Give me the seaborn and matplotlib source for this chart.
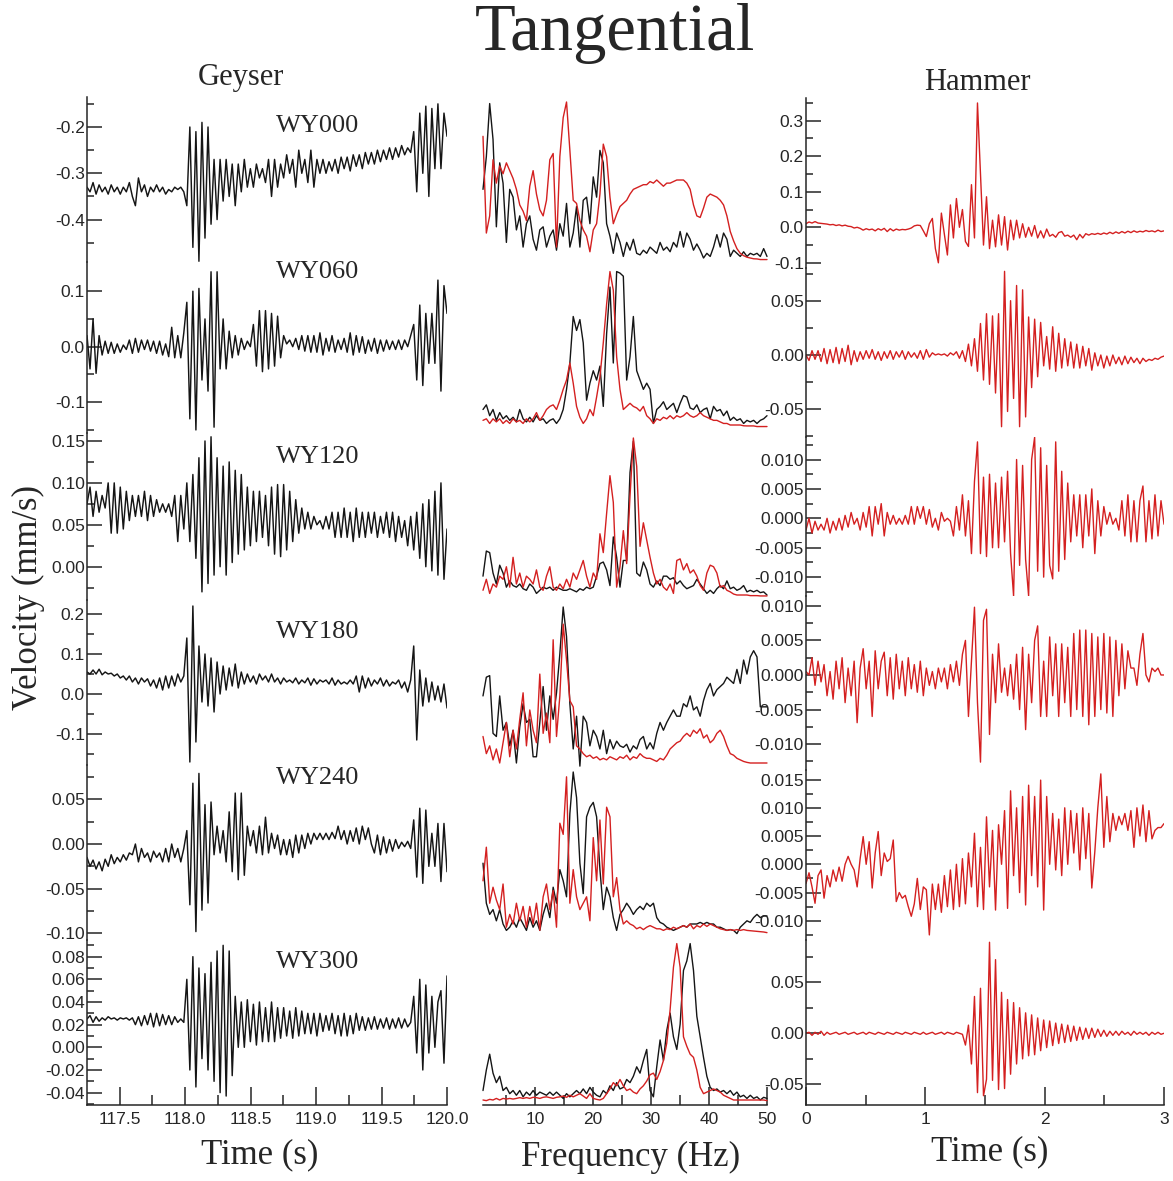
import numpy as np
import matplotlib
matplotlib.use("Agg")
import matplotlib.pyplot as plt
from matplotlib.ticker import FixedLocator, FormatStrFormatter, NullLocator
import seaborn as sns
import warnings
warnings.filterwarnings("ignore")

sns.set_style("ticks")
plt.rcParams['font.family'] = ['Liberation Sans Narrow', 'Liberation Sans', 'DejaVu Sans']
plt.rcParams['axes.unicode_minus'] = False
plt.rcParams['axes.linewidth'] = 1.1
SERIF = ['Liberation Serif', 'DejaVu Serif']

# ---------------- data ----------------
stations = ['WY000', 'WY060', 'WY120', 'WY180', 'WY240', 'WY300']
geyser_span = (117.25, 120.0)   # s
hammer_span = (0.0, 3.0)        # s
freq_span = (1.0, 50.0)         # Hz

# geyser velocity (mm/s), evenly sampled over geyser_span
geyser_wy000 = [-0.33,-0.34,-0.32,-0.345,-0.325,-0.34,-0.33,-0.345,-0.325,-0.34,
    -0.33,-0.345,-0.33,-0.34,-0.32,-0.35,-0.37,-0.31,-0.34,-0.325,
    -0.35,-0.33,-0.34,-0.325,-0.34,-0.33,-0.345,-0.335,-0.34,-0.33,
    -0.335,-0.33,-0.34,
    -0.37,-0.20,-0.46,-0.21,-0.49,-0.19,-0.44,-0.20,-0.41,-0.27,-0.40,
    -0.27,-0.36,-0.27,-0.35,-0.28,-0.37,-0.28,-0.34,-0.27,-0.33,
    -0.29,-0.33,-0.28,-0.31,-0.29,-0.32,-0.27,-0.35,-0.27,-0.33,
    -0.28,-0.31,-0.26,-0.30,-0.27,-0.33,-0.25,-0.30,-0.27,-0.32,
    -0.25,-0.33,-0.27,-0.30,-0.27,-0.30,-0.275,-0.295,-0.27,-0.30,
    -0.265,-0.29,-0.265,-0.295,-0.26,-0.285,-0.26,-0.29,-0.255,-0.28,
    -0.255,-0.28,-0.25,-0.275,-0.25,-0.27,-0.245,-0.27,-0.245,-0.265,
    -0.24,-0.26,-0.245,-0.255,
    -0.21,-0.34,-0.17,-0.30,-0.155,-0.35,-0.16,-0.29,-0.15,-0.29,-0.17,-0.22]
geyser_wy060 = [0.02,-0.04,0.05,-0.048,0.02,-0.015,0.01,-0.012,0.008,-0.012,
    0.005,-0.01,0.003,-0.005,0.012,-0.012,0.015,-0.01,0.012,-0.005,
    0.012,-0.008,0.01,-0.012,0.01,-0.015,0.005,-0.018,0.035,-0.02,
    0.02,-0.02,0.025,
    0.08,-0.13,0.10,-0.15,0.105,-0.06,0.05,-0.08,0.135,-0.145,0.135,
    -0.04,0.05,-0.04,0.028,-0.02,0.02,-0.015,0.015,-0.005,0.01,
    0.0,0.04,-0.035,0.065,-0.045,0.065,-0.04,0.06,-0.035,0.055,
    -0.02,0.02,0.005,0.012,0.0,0.015,-0.005,0.02,-0.008,0.02,
    -0.01,0.02,-0.01,0.025,-0.015,0.015,-0.008,0.02,-0.01,0.012,
    -0.005,0.015,-0.01,0.025,-0.015,0.02,-0.01,0.018,-0.012,0.012,
    -0.008,0.015,-0.012,0.012,-0.008,0.012,-0.005,0.01,-0.005,0.012,
    -0.005,0.012,0.0,0.02,
    0.04,-0.06,0.075,-0.07,0.06,-0.03,0.06,-0.03,0.12,-0.08,0.11,0.06]
geyser_wy120 = [0.075,0.095,0.06,0.09,0.065,0.085,0.07,0.10,0.04,0.10,
    0.04,0.095,0.045,0.09,0.055,0.085,0.06,0.085,0.06,0.09,
    0.055,0.085,0.06,0.08,0.065,0.075,0.065,0.075,0.06,0.085,
    0.03,0.085,0.045,0.10,0.03,0.11,0.01,0.13,-0.03,0.15,
    -0.02,0.155,-0.01,0.13,0.0,0.12,-0.01,0.125,0.005,0.115,
    0.015,0.11,0.02,0.095,0.025,0.09,0.03,0.09,0.035,0.085,
    0.025,0.095,0.015,0.098,0.012,0.098,0.02,0.09,0.03,0.08,
    0.04,0.07,0.045,0.065,0.045,0.06,0.05,0.055,0.045,0.06,
    0.045,0.065,0.035,0.065,0.035,0.07,0.035,0.065,0.03,0.07,
    0.035,0.065,0.035,0.065,0.04,0.065,0.035,0.06,0.04,0.065,
    0.035,0.065,0.03,0.06,0.035,0.055,0.025,0.06,0.02,0.065,
    0.01,0.075,0.0,0.08,-0.005,0.09,-0.01,0.1,-0.015,0.045]
geyser_wy180 = [0.055,0.05,0.06,0.05,0.062,0.048,0.055,0.05,0.052,0.045,
    0.05,0.04,0.045,0.035,0.045,0.03,0.04,0.025,0.04,0.03,
    0.038,0.02,0.035,0.015,0.04,0.01,0.045,0.015,0.045,0.02,
    0.05,0.03,0.045,0.14,-0.17,0.22,-0.12,0.12,-0.02,0.10,
    -0.03,0.09,-0.045,0.08,0.0,0.07,0.01,0.065,0.02,0.075,
    0.015,0.055,0.025,0.05,0.03,0.045,0.025,0.05,0.035,0.045,
    0.03,0.05,0.03,0.04,0.025,0.04,0.03,0.035,0.028,0.04,
    0.025,0.035,0.028,0.04,0.022,0.038,0.025,0.035,0.03,0.035,
    0.025,0.04,0.022,0.035,0.025,0.03,0.025,0.035,0.025,0.045,
    0.005,0.045,0.015,0.04,0.02,0.035,0.025,0.04,0.02,0.035,
    0.02,0.03,0.025,0.035,0.015,0.03,0.005,0.035,0.12,-0.115,
    0.06,-0.03,0.04,-0.02,0.03,-0.015,0.02,-0.02,0.025,-0.035]
geyser_wy240 = [-0.015,-0.025,-0.018,-0.028,-0.02,-0.03,-0.017,-0.025,-0.012,-0.022,
    -0.015,-0.02,-0.012,-0.018,-0.01,-0.012,0.0,-0.02,-0.005,-0.015,
    -0.01,-0.02,-0.008,-0.015,-0.01,-0.02,-0.005,-0.02,0.0,-0.015,
    -0.005,-0.02,-0.005,0.015,-0.068,0.068,-0.098,0.079,-0.074,0.044,
    -0.066,0.047,-0.012,0.02,-0.01,0.015,-0.02,0.036,-0.031,0.057,
    -0.04,0.057,-0.035,0.02,-0.002,0.015,-0.01,0.02,-0.012,0.03,
    -0.01,0.012,-0.005,0.01,-0.012,0.005,-0.012,0.005,-0.015,0.01,
    -0.01,0.01,-0.005,0.012,0.0,0.012,0.005,0.012,0.005,0.012,
    0.005,0.013,0.006,0.02,0.005,0.015,0.0,0.015,0.003,0.018,
    0.0,0.02,0.005,0.018,0.0,-0.01,0.01,-0.012,0.008,-0.01,
    0.005,-0.008,0.005,-0.005,0.002,-0.003,0.003,-0.005,0.027,-0.037,
    0.04,-0.044,0.038,-0.025,0.012,-0.025,0.023,-0.042,0.023,-0.031]
geyser_wy300 = [0.025,0.028,0.022,0.027,0.023,0.026,0.024,0.027,0.025,0.026,
    0.024,0.026,0.025,0.026,0.024,0.026,0.02,0.027,0.019,0.028,
    0.02,0.03,0.018,0.03,0.019,0.029,0.02,0.028,0.02,0.027,
    0.022,0.025,0.022,0.06,-0.02,0.08,-0.035,0.07,-0.01,0.065,
    -0.02,0.075,-0.03,0.085,-0.04,0.09,-0.043,0.085,-0.025,0.045,
    0.0,0.04,0.0,0.042,0.005,0.038,0.002,0.04,0.005,0.035,
    0.005,0.04,0.005,0.035,0.008,0.035,0.01,0.032,0.008,0.035,
    0.01,0.032,0.012,0.03,0.012,0.03,0.01,0.03,0.014,0.028,
    0.015,0.03,0.012,0.028,0.01,0.03,0.01,0.028,0.012,0.03,
    0.015,0.027,0.015,0.026,0.016,0.027,0.016,0.025,0.017,0.026,
    0.016,0.025,0.017,0.026,0.017,0.025,0.018,0.022,0.045,-0.005,
    0.06,-0.02,0.055,-0.005,0.045,0.0,0.04,0.05,-0.014,0.063]

# hammer velocity (mm/s), evenly sampled over hammer_span
hammer_wy000 = [0.01,0.015,0.012,0.016,0.012,0.011,0.01,0.009,0.007,0.008,
    0.005,0.007,0.004,0.006,0.003,0.002,-0.002,0.0,-0.003,-0.008,
    -0.004,-0.007,-0.005,-0.01,-0.004,-0.008,-0.003,-0.012,-0.004,-0.01,
    -0.005,-0.008,-0.006,-0.007,-0.005,-0.002,0.004,0.006,0.005,-0.01,
    -0.026,0.01,0.025,-0.06,-0.1,0.04,-0.02,-0.078,0.063,-0.03,
    0.081,0.0,0.05,-0.04,-0.054,0.12,-0.03,0.35,0.15,-0.05,
    0.086,-0.06,0.02,-0.055,0.035,-0.05,0.03,-0.064,0.02,-0.035,
    0.02,-0.03,0.01,-0.028,0.0,-0.025,0.005,-0.03,-0.01,-0.03,
    -0.005,-0.025,-0.02,-0.028,-0.015,-0.012,-0.025,-0.022,-0.028,-0.022,
    -0.035,-0.02,-0.03,-0.018,-0.022,-0.018,-0.02,-0.017,-0.02,-0.016,
    -0.019,-0.014,-0.018,-0.013,-0.017,-0.012,-0.016,-0.011,-0.015,-0.01,
    -0.014,-0.011,-0.013,-0.009,-0.012,-0.01,-0.013,-0.008,-0.012,-0.01]
hammer_wy060 = [0.0,-0.005,0.004,-0.004,0.004,-0.006,0.006,-0.008,0.005,-0.007,
    0.007,-0.008,0.006,-0.006,0.009,-0.009,0.004,-0.006,0.003,-0.004,
    0.004,-0.003,0.005,-0.004,0.003,-0.005,0.003,-0.003,0.004,-0.004,
    0.003,-0.002,0.004,-0.004,0.003,-0.002,0.002,-0.003,0.004,-0.004,
    0.005,-0.002,0.002,0.0,0.001,0.0,0.001,-0.001,0.002,0.0,
    0.003,-0.003,0.004,
    -0.006,0.01,-0.01,0.015,-0.015,0.029,-0.023,0.038,-0.027,0.036,
    -0.035,0.038,-0.066,0.077,-0.052,0.05,-0.04,0.064,-0.066,0.06,
    -0.057,0.035,-0.03,0.033,-0.02,0.03,-0.01,0.017,-0.013,0.026,
    -0.015,0.02,-0.012,0.015,-0.01,0.012,-0.012,0.01,-0.012,0.008,
    -0.01,0.006,-0.014,0.002,-0.01,0.0,-0.012,-0.001,-0.01,0.0,
    -0.008,-0.002,-0.009,-0.001,-0.008,-0.002,-0.007,-0.003,-0.008,-0.003,
    -0.006,-0.004,-0.005,-0.003,-0.004,-0.002,-0.001]
hammer_wy120 = [-0.002,0.0,-0.0025,-0.0005,-0.002,-0.001,-0.002,0.0,-0.0025,-0.0005,
    -0.002,0.0,-0.002,0.0005,-0.0015,0.001,-0.001,0.0,-0.002,0.001,
    -0.0015,0.002,-0.003,0.002,-0.001,0.0025,-0.003,0.001,-0.001,0.0005,
    -0.001,0.0,-0.001,0.0005,-0.001,0.002,-0.001,0.002,0.0,0.002,
    -0.001,0.0015,-0.0015,0.0,-0.002,0.001,-0.0005,0.0,-0.0005,-0.003,
    0.002,-0.002,0.004,-0.003,0.003,-0.006,0.0063,0.013,-0.006,0.007,
    -0.0065,0.0075,-0.005,0.006,-0.005,0.007,-0.004,0.008,-0.006,-0.0132,
    0.01,-0.008,0.009,-0.007,-0.0132,0.01,0.0138,-0.009,0.012,-0.01,
    0.009,-0.008,-0.0103,0.013,-0.009,0.008,-0.007,0.006,-0.004,0.004,
    -0.003,0.004,-0.005,0.004,-0.003,0.005,-0.006,0.003,-0.003,0.002,
    -0.001,0.001,-0.001,0.0,-0.002,0.003,-0.003,0.004,-0.004,0.003,
    -0.004,0.003,0.0055,-0.004,0.003,-0.0035,0.004,-0.003,0.003,-0.001]
hammer_wy180 = [0.0005,0.0,0.0025,-0.0015,0.002,-0.001,0.0015,-0.003,0.0005,-0.0035,
    0.002,-0.002,0.0025,-0.004,0.001,-0.003,0.002,-0.0069,0.001,0.0038,
    -0.002,0.002,-0.006,0.0035,-0.002,0.002,0.0033,-0.003,0.0025,-0.0035,
    0.003,-0.002,0.002,-0.003,0.0025,-0.002,0.0015,-0.0025,0.002,-0.003,
    0.001,-0.0015,0.0005,-0.002,0.001,-0.001,0.001,-0.002,0.0015,-0.001,
    0.002,-0.0015,0.003,0.005,-0.006,0.002,0.0098,-0.004,-0.0126,0.0079,
    0.0095,-0.0086,0.003,-0.004,0.0045,-0.0025,0.001,-0.003,0.0015,-0.0035,
    0.003,-0.005,0.004,-0.0079,0.003,-0.004,0.005,0.0071,-0.006,0.002,
    -0.006,0.0055,-0.003,0.0045,-0.006,0.0045,-0.004,0.004,-0.006,0.006,
    -0.005,0.0065,-0.006,0.0065,-0.0072,0.006,-0.006,0.0055,-0.005,0.006,
    -0.0055,0.0055,-0.006,0.005,-0.003,0.0045,-0.002,0.0035,0.001,0.001,
    -0.0015,0.003,0.006,0.0,-0.001,0.001,0.0005,0.001,0.0,0.0]
hammer_wy240 = [-0.0034,-0.0015,-0.004,-0.0069,-0.002,-0.001,-0.006,-0.002,-0.004,-0.001,
    -0.003,-0.0005,-0.003,0.0,0.0014,0.0,-0.001,-0.004,0.001,0.0049,
    0.0,0.004,-0.0042,0.002,0.0058,-0.002,0.002,0.0005,0.001,0.0043,
    -0.0066,-0.005,-0.006,-0.0055,-0.0075,-0.0092,-0.007,-0.0025,-0.008,-0.004,
    -0.0045,-0.0125,-0.0035,-0.008,-0.0035,-0.0085,-0.002,-0.0075,-0.001,-0.008,
    0.0,-0.0075,0.001,-0.007,0.002,-0.004,0.0055,-0.0075,0.003,-0.008,
    0.0084,-0.004,0.006,-0.0081,0.007,0.0,0.0095,-0.0078,0.013,-0.002,
    0.01,-0.005,0.012,-0.0072,0.014,-0.002,0.012,-0.004,0.0149,-0.0081,
    0.012,0.0,0.009,-0.001,0.008,-0.002,0.01,0.0,0.0095,0.002,
    0.009,-0.001,0.01,0.001,0.009,-0.0042,0.0022,0.01,0.016,0.003,
    0.012,0.004,0.009,0.006,0.0085,0.007,0.009,0.006,0.0095,0.003,
    0.01,0.005,0.0105,0.004,0.0095,0.0045,0.006,0.0065,0.0065,0.0072]
hammer_wy300 = [0.0,0.001,-0.002,0.001,-0.001,0.002,-0.002,0.001,-0.001,0.0,
    0.001,-0.001,0.0,0.001,-0.001,0.0,0.001,-0.001,0.0,0.001,
    -0.001,0.001,0.0,-0.001,0.001,0.0,-0.001,0.001,0.0,-0.001,
    0.001,0.0,-0.001,0.001,0.0,-0.001,0.001,0.0,-0.001,0.001,
    -0.001,0.0,0.001,-0.001,0.0,0.001,-0.001,0.001,0.0,-0.001,
    0.001,0.0,-0.001,
    -0.0115,0.008,-0.03,0.036,-0.058,0.044,-0.061,
    -0.045,0.089,-0.046,0.072,-0.055,0.04,-0.054,0.033,-0.04,0.03,
    -0.03,0.025,-0.025,0.02,-0.022,0.018,-0.021,0.015,-0.017,0.013,
    -0.014,0.012,-0.012,0.01,-0.01,0.009,-0.009,0.008,-0.008,0.007,
    -0.007,0.006,-0.006,0.005,-0.005,0.005,-0.004,0.004,-0.003,0.003,
    -0.003,0.002,-0.002,0.002,-0.002,0.002,-0.001,0.001,-0.002,0.002,
    -0.001,0.001,-0.001,0.001,-0.002,0.001,-0.001,0.001,-0.001,0.0]

# amplitude spectra (normalised), evenly sampled over freq_span
spec_geyser_wy000 = [0.44,0.65,0.99,0.76,0.20,0.61,0.48,0.10,0.44,0.39,
    0.18,0.27,0.07,0.22,0.27,0.12,0.05,0.18,0.20,0.07,
    0.14,0.18,0.05,0.22,0.14,0.35,0.07,0.16,0.33,0.07,
    0.37,0.39,0.22,0.52,0.39,0.69,0.61,0.22,0.14,0.03,
    0.16,0.10,0.01,0.10,0.05,0.12,0.03,0.02,0.05,0.03,
    0.07,0.05,0.03,0.10,0.05,0.07,0.04,0.10,0.07,0.17,
    0.07,0.16,0.12,0.05,0.09,0.05,0.0,0.03,0.01,0.07,
    0.15,0.07,0.16,0.12,0.01,0.05,0.03,0.01,0.04,0.01,
    0.03,0.02,0.03,0.01,0.06,0.01]
spec_hammer_wy000 = [0.78,0.16,0.27,0.63,0.48,0.59,0.54,0.61,0.56,0.51,
    0.44,0.34,0.30,0.24,0.46,0.56,0.41,0.31,0.27,0.37,
    0.63,0.67,0.07,0.65,0.90,1.0,0.69,0.37,0.35,0.24,
    0.18,0.14,0.04,0.18,0.22,0.41,0.73,0.65,0.39,0.22,
    0.28,0.33,0.35,0.37,0.41,0.44,0.45,0.46,0.47,0.47,
    0.49,0.48,0.50,0.48,0.46,0.48,0.48,0.49,0.50,0.50,
    0.50,0.48,0.44,0.34,0.27,0.26,0.32,0.39,0.41,0.40,
    0.39,0.37,0.34,0.27,0.17,0.11,0.06,0.03,0.015,0.005,
    0.0,-0.005,-0.006,-0.01,-0.01,-0.01]
spec_geyser_wy060 = [0.10,0.13,0.06,0.10,0.03,0.08,0.04,0.06,0.03,0.05,
    0.02,0.10,0.04,0.02,0.05,0.02,0.06,0.03,0.04,0.01,
    0.03,0.04,0.01,0.04,0.10,0.23,0.40,0.70,0.61,0.68,
    0.53,0.16,0.27,0.35,0.29,0.38,0.12,0.59,0.89,0.40,
    0.99,0.98,0.96,0.29,0.44,0.70,0.35,0.29,0.23,0.27,
    0.23,0.01,0.10,0.12,0.15,0.10,0.12,0.14,0.08,0.14,
    0.19,0.18,0.11,0.10,0.13,0.08,0.10,0.11,0.04,0.12,
    0.09,0.10,0.06,0.09,0.03,0.05,0.03,0.04,0.01,0.03,
    0.02,0.03,0.01,0.03,0.04,0.06]
spec_hammer_wy060 = [0.03,0.04,0.01,0.04,0.02,0.04,0.01,0.03,0.01,0.04,
    0.02,0.03,0.01,0.04,0.02,0.04,0.08,0.03,0.06,0.10,
    0.12,0.13,0.10,0.16,0.23,0.29,0.40,0.27,0.12,0.05,
    0.01,0.04,0.10,0.06,0.18,0.31,0.53,0.78,0.99,0.87,
    0.44,0.23,0.10,0.12,0.14,0.12,0.11,0.09,0.12,0.06,
    0.04,0.01,0.04,0.03,0.05,0.04,0.06,0.04,0.06,0.05,
    0.06,0.08,0.06,0.05,0.06,0.08,0.06,0.05,0.04,0.03,
    0.03,0.02,0.01,0.01,0.0,0.0,0.0,0.0,-0.005,-0.006,
    -0.006,-0.006,-0.01,-0.01,-0.01,-0.01]
spec_geyser_wy120 = [0.12,0.28,0.27,0.14,0.07,0.19,0.14,0.05,0.09,0.06,
    0.05,0.07,0.04,0.03,0.07,0.05,0.01,0.03,0.05,0.04,
    0.05,0.03,0.05,0.04,0.03,0.03,0.04,0.03,0.02,0.04,
    0.03,0.05,0.04,0.05,0.12,0.20,0.21,0.16,0.06,0.37,
    0.24,0.05,0.22,0.22,0.78,0.98,0.14,0.12,0.21,0.16,
    0.07,0.05,0.09,0.06,0.12,0.12,0.10,0.11,0.07,0.09,
    0.06,0.04,0.05,0.06,0.10,0.07,0.04,0.01,0.03,0.01,
    0.04,0.06,0.04,0.09,0.04,0.05,0.03,0.04,0.06,0.02,
    0.03,0.02,0.03,0.015,0.02,0.0]
spec_hammer_wy120 = [0.03,0.10,0.01,0.07,0.05,0.12,0.10,0.18,0.05,0.24,
    0.07,0.14,0.05,0.12,0.10,0.07,0.16,0.05,0.03,0.12,
    0.18,0.05,0.03,0.07,0.04,0.10,0.05,0.14,0.10,0.16,
    0.22,0.12,0.05,0.14,0.10,0.39,0.27,0.52,0.76,0.59,
    0.05,0.18,0.41,0.20,0.63,1.0,0.82,0.31,0.46,0.35,
    0.24,0.14,0.07,0.10,0.05,0.03,0.07,0.01,0.22,0.23,
    0.16,0.20,0.14,0.16,0.12,0.06,0.03,0.14,0.19,0.18,
    0.14,0.05,0.06,0.03,0.02,0.006,0.0,0.0,0.0,0.0,
    -0.004,-0.004,-0.004,-0.006,-0.006,-0.006]
spec_geyser_wy180 = [0.43,0.55,0.56,0.19,0.17,0.43,0.21,0.26,0.11,0.21,
    0.0,0.23,0.38,0.26,0.28,0.04,0.04,0.26,0.49,0.21,
    0.43,0.28,0.45,0.70,1.0,0.81,0.38,0.09,0.30,-0.02,
    0.30,0.26,0.11,0.21,0.17,0.09,0.21,0.06,0.15,0.09,
    0.14,0.11,0.10,0.12,0.07,0.11,0.09,0.15,0.17,0.09,
    0.13,0.09,0.19,0.26,0.21,0.26,0.30,0.34,0.30,0.30,
    0.38,0.36,0.43,0.34,0.36,0.30,0.40,0.47,0.51,0.43,
    0.47,0.49,0.51,0.55,0.53,0.51,0.60,0.51,0.66,0.57,
    0.68,0.72,0.68,0.36,0.36,0.36]
spec_hammer_wy180 = [0.17,0.06,0.11,0.02,0.09,0.0,0.13,0.26,0.04,0.21,
    0.09,0.28,0.45,0.11,0.34,0.21,0.13,0.57,0.19,0.32,
    0.13,0.79,0.17,0.43,0.89,0.66,0.40,0.36,0.11,0.09,
    0.06,0.04,0.05,0.03,0.04,0.02,0.03,0.02,0.04,0.03,
    0.02,0.04,0.03,0.05,0.02,0.04,0.03,0.06,0.04,0.03,
    0.03,0.02,0.01,0.03,0.02,0.05,0.09,0.11,0.13,0.14,
    0.17,0.19,0.17,0.21,0.19,0.22,0.16,0.18,0.13,0.15,
    0.19,0.21,0.17,0.11,0.06,0.05,0.03,0.02,0.01,0.004,
    0.0,0.0,0.0,0.0,0.0,0.0]
spec_geyser_wy240 = [0.43,0.18,0.11,0.14,0.07,0.14,0.05,0.01,0.03,0.07,
    0.03,0.09,0.05,0.01,0.09,0.03,0.07,0.01,0.11,0.18,
    0.09,0.28,0.18,0.39,0.32,0.22,0.74,1.0,0.84,0.43,
    0.24,0.72,0.78,0.81,0.72,0.39,0.14,0.28,0.22,0.09,
    0.01,0.11,0.14,0.18,0.15,0.11,0.14,0.16,0.14,0.18,
    0.16,0.18,0.09,0.06,0.05,0.03,0.02,0.01,0.02,0.03,
    0.04,0.03,0.05,0.05,0.05,0.06,0.05,0.06,0.05,0.05,
    0.03,0.03,0.02,0.01,0.015,0.01,-0.01,0.03,0.05,0.07,
    0.06,0.09,0.11,0.09,0.10,0.10]
spec_hammer_wy240 = [0.32,0.53,0.18,0.28,0.20,0.14,0.30,0.03,0.11,0.05,
    0.18,0.07,0.16,0.03,0.16,0.05,0.18,0.01,0.22,0.30,
    0.14,0.26,0.03,0.68,0.61,0.97,0.18,0.39,0.22,0.14,
    0.18,0.22,0.07,0.59,0.32,0.70,0.30,0.78,0.72,0.22,
    0.34,0.14,0.05,0.07,0.05,0.04,0.02,0.03,0.015,0.03,
    0.04,0.03,0.02,0.02,0.01,0.02,0.015,0.03,0.02,0.03,
    0.04,0.03,0.05,0.02,0.04,0.03,0.05,0.035,0.05,0.04,
    0.03,0.02,0.015,0.01,0.015,0.01,0.015,0.01,0.015,0.01,
    0.008,0.006,0.004,0.002,0.0,-0.004]
spec_geyser_wy300 = [0.06,0.19,0.29,0.17,0.11,0.15,0.06,0.08,0.04,0.06,
    0.03,0.06,0.02,0.05,0.03,0.06,0.03,0.05,0.04,0.03,
    0.05,0.03,0.05,0.03,0.01,0.04,0.02,0.04,0.06,0.04,
    0.07,0.04,0.08,0.05,0.03,0.02,0.06,0.04,0.09,0.06,
    0.11,0.07,0.08,0.13,0.11,0.15,0.21,0.17,0.25,0.32,
    0.06,0.02,0.21,0.38,0.25,0.44,0.55,0.40,0.32,0.48,
    0.82,0.88,0.99,0.82,0.53,0.40,0.27,0.15,0.08,0.06,
    0.07,0.05,0.06,0.04,0.06,0.03,0.05,0.02,0.03,0.01,
    0.03,0.01,0.02,0.0,0.017,0.01]
spec_hammer_wy300 = [0.0,-0.004,0.004,0.0,0.01,0.0,0.01,0.006,0.01,0.006,
    0.01,0.015,0.01,0.015,0.01,0.017,0.015,0.01,0.017,0.02,
    0.015,0.01,0.017,0.02,0.025,0.017,0.03,0.02,0.03,0.04,
    0.025,0.01,0.04,0.01,0.004,0.0,0.01,0.04,0.07,0.11,
    0.09,0.13,0.09,0.06,0.07,0.05,0.04,0.07,0.09,0.12,
    0.16,0.17,0.13,0.18,0.25,0.36,0.57,0.84,0.99,0.84,
    0.40,0.34,0.29,0.27,0.19,0.08,0.04,0.05,0.06,0.07,
    0.06,0.05,0.03,0.02,0.01,0.0,0.0,0.0,0.0,0.0,
    0.0,0.0,0.0,0.0,0.0,-0.004]

geyser_traces = [geyser_wy000, geyser_wy060, geyser_wy120, geyser_wy180, geyser_wy240, geyser_wy300]
hammer_traces = [hammer_wy000, hammer_wy060, hammer_wy120, hammer_wy180, hammer_wy240, hammer_wy300]
spec_geyser = [spec_geyser_wy000, spec_geyser_wy060, spec_geyser_wy120,
               spec_geyser_wy180, spec_geyser_wy240, spec_geyser_wy300]
spec_hammer = [spec_hammer_wy000, spec_hammer_wy060, spec_hammer_wy120,
               spec_hammer_wy180, spec_hammer_wy240, spec_hammer_wy300]

# ---------------- layout (pixels) ----------------
W, H = 1173, 1181
BLACK, RED = '#151515', '#d42020'

left_rows = [(97, 262), (262, 433), (433, 600), (600, 765), (765, 940), (940, 1105)]
left_ylim = [(-0.4916, -0.1352), (-0.1555, 0.1526), (-0.0397, 0.1595),
             (-0.1775, 0.235), (-0.1074, 0.0884), (-0.0509, 0.0947)]
left_major = [[-0.2, -0.3, -0.4], [0.1, 0.0, -0.1], [0.15, 0.10, 0.05, 0.00],
              [0.2, 0.1, 0.0, -0.1], [0.05, 0.00, -0.05, -0.10],
              [0.08, 0.06, 0.04, 0.02, 0.00, -0.02, -0.04]]
left_minor = [[-0.15, -0.25, -0.35, -0.45], [0.05, -0.05, -0.15], [0.125, 0.075, 0.025, -0.025],
              [0.15, 0.05, -0.05, -0.15], [0.075, 0.025, -0.025, -0.075],
              [0.09, 0.07, 0.05, 0.03, 0.01, -0.01, -0.03, -0.05]]
left_fmt = ['%.1f', '%.1f', '%.2f', '%.1f', '%.2f', '%.2f']

right_rows = [(98, 268), (268, 437), (437, 596), (596, 770), (770, 940), (940, 1105)]
right_ylim = [(-0.1146, 0.364), (-0.0755, 0.0801), (-0.01321, 0.01383),
              (-0.01374, 0.01142), (-0.0134, 0.01669), (-0.0701, 0.0912)]
right_major = [[0.3, 0.2, 0.1, 0.0, -0.1], [0.05, 0.00, -0.05],
               [0.010, 0.005, 0.0, -0.005, -0.010], [0.010, 0.005, 0.0, -0.005, -0.010],
               [0.015, 0.010, 0.005, 0.0, -0.005, -0.010], [0.05, 0.00, -0.05]]
right_minor = [[0.35, 0.25, 0.15, 0.05, -0.05], [0.075, 0.025, -0.025, -0.075],
               [0.0125, 0.0075, 0.0025, -0.0025, -0.0075, -0.0125],
               [0.0075, 0.0025, -0.0025, -0.0075, -0.0125],
               [0.0125, 0.0075, 0.0025, -0.0025, -0.0075, -0.0125], [0.075, 0.025, -0.025]]
right_fmt = ['%.1f', '%.2f', '%.3f', '%.3f', '%.3f', '%.2f']

mid_rows = [(102, 258, 258), (270, 425, 425), (438, 595, 595),
            (607, 763, 763), (772, 932, 932), (942, 1105, 1100)]  # top, bottom, baseline

fig = plt.figure(figsize=(W / 100, H / 100), dpi=100)


def add_ax(x0, x1, y0, y1):
    return fig.add_axes([x0 / W, 1 - y1 / H, (x1 - x0) / W, (y1 - y0) / H])


def style_y(ax, major, minor, fmt):
    ax.yaxis.set_major_locator(FixedLocator(major))
    ax.yaxis.set_minor_locator(FixedLocator(minor))
    ax.yaxis.set_major_formatter(FormatStrFormatter(fmt))
    ax.tick_params(axis='y', which='major', direction='in', length=11, width=1.1,
                   labelsize=12.5, pad=1.5, right=False)
    ax.tick_params(axis='y', which='minor', direction='in', length=5, width=1.1, right=False)


def style_x(ax, last, major=None, minor=None, fmt=None):
    if not last:
        ax.spines['bottom'].set_visible(False)
        ax.xaxis.set_major_locator(NullLocator())
        ax.xaxis.set_minor_locator(NullLocator())
        return
    ax.xaxis.set_major_locator(FixedLocator(major))
    ax.xaxis.set_minor_locator(FixedLocator(minor))
    ax.xaxis.set_major_formatter(FormatStrFormatter(fmt))
    ax.tick_params(axis='x', which='major', direction='in', length=13, width=1.1,
                   labelsize=12.5, pad=5, top=False)
    ax.tick_params(axis='x', which='minor', direction='in', length=7, width=1.1, top=False)


for i in range(6):
    last = i == 5
    # Geyser seismograms
    ax = add_ax(87, 447, *left_rows[i])
    t = np.linspace(geyser_span[0], geyser_span[1], len(geyser_traces[i]))
    sns.lineplot(x=t, y=geyser_traces[i], ax=ax, color=BLACK, linewidth=1.05, legend=False)
    ax.set_xlim(*geyser_span)
    ax.set_ylim(*left_ylim[i])
    ax.spines[['top', 'right']].set_visible(False)
    ax.set_facecolor('none')
    style_y(ax, left_major[i], left_minor[i], left_fmt[i])
    style_x(ax, last, [117.5, 118.0, 118.5, 119.0, 119.5, 120.0],
            [117.75, 118.25, 118.75, 119.25, 119.75], '%.1f')
    ax.set_xlabel('')
    ax.set_ylabel('')

    # Spectra
    top, bot, base = mid_rows[i]
    ax = add_ax(483, 767, top, bot)
    f = np.linspace(freq_span[0], freq_span[1], len(spec_geyser[i]))
    sns.lineplot(x=f, y=spec_geyser[i], ax=ax, color=BLACK, linewidth=1.0, legend=False)
    sns.lineplot(x=f, y=spec_hammer[i], ax=ax, color=RED, linewidth=1.0, legend=False)
    for ln in ax.lines:
        ln.set_clip_on(False)
    ax.set_xlim(*freq_span)
    ax.set_ylim(-(bot - base) / (base - top), 1.0)
    ax.spines[['top', 'right', 'left']].set_visible(False)
    ax.set_facecolor('none')
    ax.yaxis.set_major_locator(NullLocator())
    ax.yaxis.set_minor_locator(NullLocator())
    style_x(ax, last, [10, 20, 30, 40, 50], [5, 15, 25, 35, 45], '%d')
    ax.set_xlabel('')
    ax.set_ylabel('')

    # Hammer seismograms
    ax = add_ax(806, 1164, *right_rows[i])
    t = np.linspace(hammer_span[0], hammer_span[1], len(hammer_traces[i]))
    sns.lineplot(x=t, y=hammer_traces[i], ax=ax, color=RED, linewidth=1.0, legend=False)
    ax.set_xlim(*hammer_span)
    ax.set_ylim(*right_ylim[i])
    ax.spines[['top', 'right']].set_visible(False)
    ax.set_facecolor('none')
    style_y(ax, right_major[i], right_minor[i], right_fmt[i])
    style_x(ax, last, [0, 1, 2, 3], [0.5, 1.5, 2.5], '%d')
    ax.set_xlabel('')
    ax.set_ylabel('')

# station names
wy_y = [126, 272, 457, 632, 778, 962]
for name, y in zip(stations, wy_y):
    fig.text(318 / W, 1 - y / H, name, family=SERIF, fontsize=19, ha='center', va='center')

fig.text(615 / W, 1 - 33 / H, 'Tangential', family=SERIF, fontsize=48, ha='center', va='center')
fig.text(241 / W, 1 - 78 / H, 'Geyser', family=SERIF, fontsize=22, ha='center', va='center')
fig.text(977 / W, 1 - 82 / H, 'Hammer', family=SERIF, fontsize=22, ha='center', va='center')
fig.text(28 / W, 1 - 598 / H, 'Velocity (mm/s)', family=SERIF, fontsize=25, rotation=90,
         ha='center', va='center')
fig.text(260 / W, 1 - 1155 / H, 'Time (s)', family=SERIF, fontsize=25, ha='center', va='center')
fig.text(631 / W, 1 - 1157 / H, 'Frequency (Hz)', family=SERIF, fontsize=25, ha='center', va='center')
fig.text(990 / W, 1 - 1152 / H, 'Time (s)', family=SERIF, fontsize=25, ha='center', va='center')

fig.savefig('out.png', dpi=100, facecolor='white')
